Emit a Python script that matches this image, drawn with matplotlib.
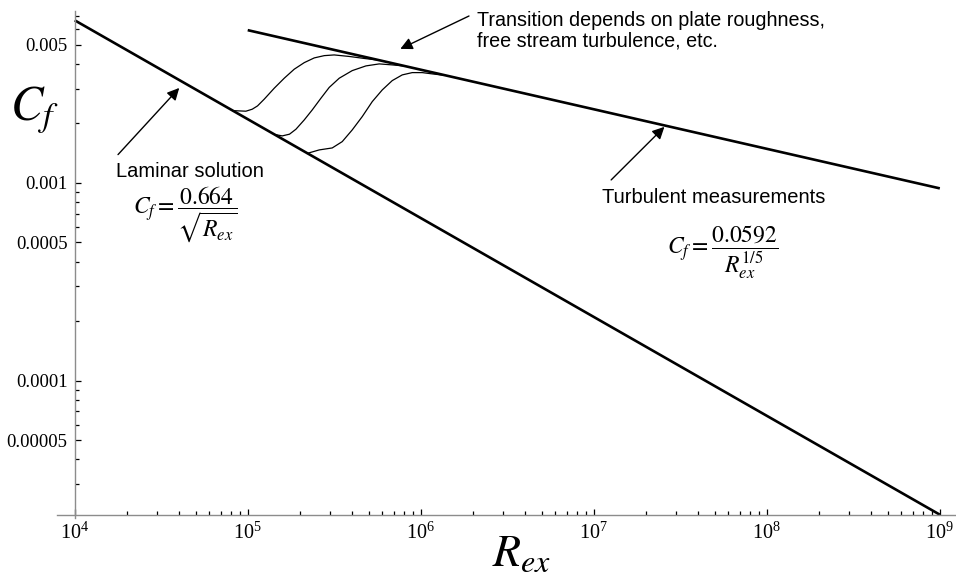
import matplotlib
matplotlib.use("Agg")
import matplotlib.pyplot as plt
from matplotlib.ticker import FixedLocator, FixedFormatter, LogLocator, NullFormatter

# Laminar (Blasius) and turbulent skin-friction lines, end points
LAM_RE = [1e4, 1e9]
LAM_CF = [0.00664, 2.1e-5]
TURB_RE = [1e5, 1e9]
TURB_CF = [0.00592, 0.000938]

# Transition curves from the laminar line up to the turbulent line
T1_RE = [8.2e4, 8.93e4, 9.76e4, 1.062e5, 1.139e5, 1.245e5, 1.423e5, 1.626e5, 1.857e5,
         2.122e5, 2.424e5, 2.769e5, 3.162e5, 3.862e5, 4.715e5, 5.756e5]
T1_CF = [2.32e-3, 2.312e-3, 2.304e-3, 2.358e-3, 2.450e-3, 2.649e-3, 3.011e-3, 3.383e-3, 3.757e-3,
         4.056e-3, 4.285e-3, 4.400e-3, 4.436e-3, 4.358e-3, 4.258e-3, 4.17e-3]
T2_RE = [1.42e5, 1.583e5, 1.744e5, 1.900e5, 2.122e5, 2.360e5, 2.649e5, 2.958e5, 3.380e5,
         4.018e5, 4.823e5, 5.756e5, 6.843e5, 8.029e5]
T2_CF = [1.76e-3, 1.728e-3, 1.763e-3, 1.868e-3, 2.082e-3, 2.339e-3, 2.680e-3, 3.039e-3, 3.383e-3,
         3.696e-3, 3.904e-3, 3.996e-3, 3.950e-3, 3.90e-3]
T3_RE = [2.21e5, 2.590e5, 3.079e5, 3.518e5, 4.018e5, 4.591e5, 5.245e5, 5.992e5, 6.843e5,
         7.818e5, 8.931e5, 1.020e6, 1.166e6, 1.367e6]
T3_CF = [1.41e-3, 1.468e-3, 1.502e-3, 1.617e-3, 1.853e-3, 2.164e-3, 2.576e-3, 2.952e-3, 3.290e-3,
         3.516e-3, 3.611e-3, 3.611e-3, 3.557e-3, 3.50e-3]

Y_TICKS = [5e-5, 1e-4, 5e-4, 1e-3, 5e-3]
Y_LABELS = ["0.00005", "0.0001", "0.0005", "0.001", "0.005"]
X_MINOR = [m * 10.0 ** e for e in range(4, 9) for m in range(2, 10)]

plt.rcParams["mathtext.fontset"] = "stix"
plt.rcParams["font.family"] = ["Liberation Serif", "DejaVu Serif"]

fig = plt.figure(figsize=(9.56, 5.75), dpi=100)
ax = fig.add_axes([0.0596, 0.0991, 0.9404, 0.8818])
ax.set_xscale("log")
ax.set_yscale("log")
ax.set_xlim(7.9e3, 1.24e9)
ax.set_ylim(2.02e-5, 7.4e-3)

ax.plot(LAM_RE, LAM_CF, color="black", lw=1.9, solid_capstyle="butt")
ax.plot(TURB_RE, TURB_CF, color="black", lw=1.9, solid_capstyle="butt")
for re, cf in [(T1_RE, T1_CF), (T2_RE, T2_CF), (T3_RE, T3_CF)]:
    ax.plot(re, cf, color="black", lw=0.9, solid_joinstyle="round")

# axes cross at (1e4, bottom of laminar line), Mathematica style
for side in ("top", "right"):
    ax.spines[side].set_visible(False)
ax.spines["left"].set_position(("data", 1e4))
ax.spines["bottom"].set_position(("data", 2.1e-5))
for side in ("left", "bottom"):
    ax.spines[side].set_color("#8c8c8c")
    ax.spines[side].set_linewidth(1.0)

ax.yaxis.set_major_locator(FixedLocator(Y_TICKS))
ax.yaxis.set_major_formatter(FixedFormatter(Y_LABELS))
ax.yaxis.set_minor_locator(LogLocator(base=10, subs=range(2, 10), numticks=20))
ax.yaxis.set_minor_formatter(NullFormatter())
ax.xaxis.set_major_locator(LogLocator(base=10, numticks=10))
ax.xaxis.set_minor_locator(FixedLocator(X_MINOR))
ax.xaxis.set_minor_formatter(NullFormatter())
ax.tick_params(which="both", direction="in", color="black", width=0.9)
ax.tick_params(which="major", length=4, pad=5)
ax.tick_params(axis="y", which="major", labelsize=13.5)
ax.tick_params(axis="x", which="major", labelsize=14.5, pad=6)
ax.tick_params(which="minor", length=3)

fig.text(0.036, 0.808, r"$C_f$", fontsize=35, ha="center", va="center")
fig.text(0.546, 0.036, r"$R_{ex}$", fontsize=33, ha="center", va="center")

sans = dict(family=["Liberation Sans", "DejaVu Sans"], fontsize=14.5)
arrow = dict(arrowstyle="-|>", color="black", lw=1.0, mutation_scale=18,
             shrinkA=0, shrinkB=0)

ax.text(2.1e6, 5.86e-3, "Transition depends on plate roughness,\nfree stream turbulence, etc.",
        ha="left", va="center", linespacing=1.1,
        family=["Liberation Sans", "DejaVu Sans"], fontsize=14.2)
ax.annotate("", xy=(7.62e5, 4.76e-3), xytext=(1.9e6, 6.98e-3), arrowprops=arrow)

ax.text(1.74e4, 1.137e-3, "Laminar solution", ha="left", va="center", **sans)
ax.annotate("", xy=(4.02e4, 3.02e-3), xytext=(1.78e4, 1.39e-3), arrowprops=arrow)
ax.text(4.36e4, 6.89e-4, r"$C_f = \dfrac{0.664}{\sqrt{R_{ex}}}$",
        ha="center", va="center", fontsize=17)

ax.text(1.12e7, 8.40e-4, "Turbulent measurements", ha="left", va="center", **sans)
ax.annotate("", xy=(2.56e7, 1.92e-3), xytext=(1.26e7, 1.035e-3), arrowprops=arrow)
ax.text(5.53e7, 4.48e-4, r"$C_f = \dfrac{0.0592}{R_{ex}^{1/5}}$",
        ha="center", va="center", fontsize=17)

fig.savefig("out.png", dpi=100)
